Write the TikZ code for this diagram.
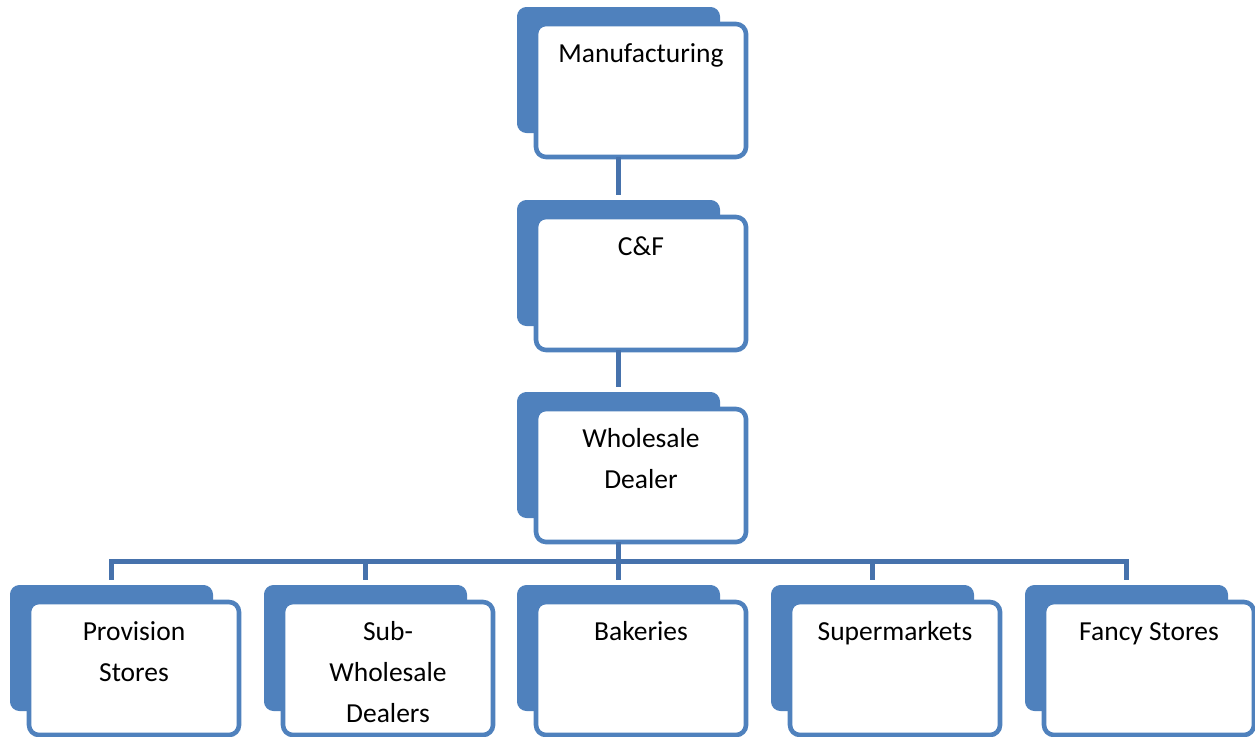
\documentclass[tikz,border=0pt]{standalone}
\usepackage{fontspec}
\setmainfont{Carlito}
\definecolor{accent}{HTML}{4F81BD}
\definecolor{conn}{HTML}{4672AC}
\newcommand{\chartbox}[4]{%
  % #1 name, #2 front centre x, #3 front top y, #4 text
  \node[backbox] (#1-back) at (#2-22.5,#3+46) {};
  \node[frontbox] (#1) at (#2,#3+66.5) {};
  \node[boxtext] (#1-t) at (#2,#3+10) {\strut #4};
}
\begin{document}
\begin{tikzpicture}[x=1pt,y=-1pt,
  backbox/.style={fill=accent, draw=accent, line width=1pt, rounded corners=9pt,
    minimum width=202pt, minimum height=125pt, inner sep=0pt, outer sep=0pt},
  frontbox/.style={fill=white, draw=accent, line width=4.6pt, rounded corners=10pt,
    minimum width=210pt, minimum height=133pt, inner sep=0pt, outer sep=0pt},
  boxtext/.style={anchor=north, inner sep=0pt, align=center,
    font=\fontsize{27.5}{41}\selectfont, text=black},
  connline/.style={draw=conn, line width=5pt, line join=miter}]
\useasboundingbox (0,0) rectangle (1255,736);

\chartbox{mf}{641}{24}{Manufacturing}
\chartbox{cf}{641}{217}{C\&F}
\chartbox{wd}{641}{409}{Wholesale\\Dealer}
\chartbox{pv}{134}{602}{Provision\\Stores}
\chartbox{sw}{388}{602}{Sub-\\Wholesale\\Dealers}
\chartbox{bk}{641}{602}{Bakeries}
\chartbox{sm}{895}{602}{Supermarkets}
\chartbox{fs}{1149}{602}{Fancy Stores}

\coordinate (bar) at (618.5,561);

\draw[connline] (mf-back.south |- mf.south) -- ([yshift=6pt]cf-back.north);
\draw[connline] (cf-back.south |- cf.south) -- ([yshift=6pt]wd-back.north);
\draw[connline] (wd-back.south |- wd.south) -- (bar);
\draw[connline] ([yshift=6pt]pv-back.north) -- (pv-back.north |- bar)
  -- (fs-back.north |- bar) -- ([yshift=6pt]fs-back.north);
\draw[connline] (sw-back.north |- bar) -- ([yshift=6pt]sw-back.north);
\draw[connline] (bk-back.north |- bar) -- ([yshift=6pt]bk-back.north);
\draw[connline] (sm-back.north |- bar) -- ([yshift=6pt]sm-back.north);
\end{tikzpicture}
\end{document}
